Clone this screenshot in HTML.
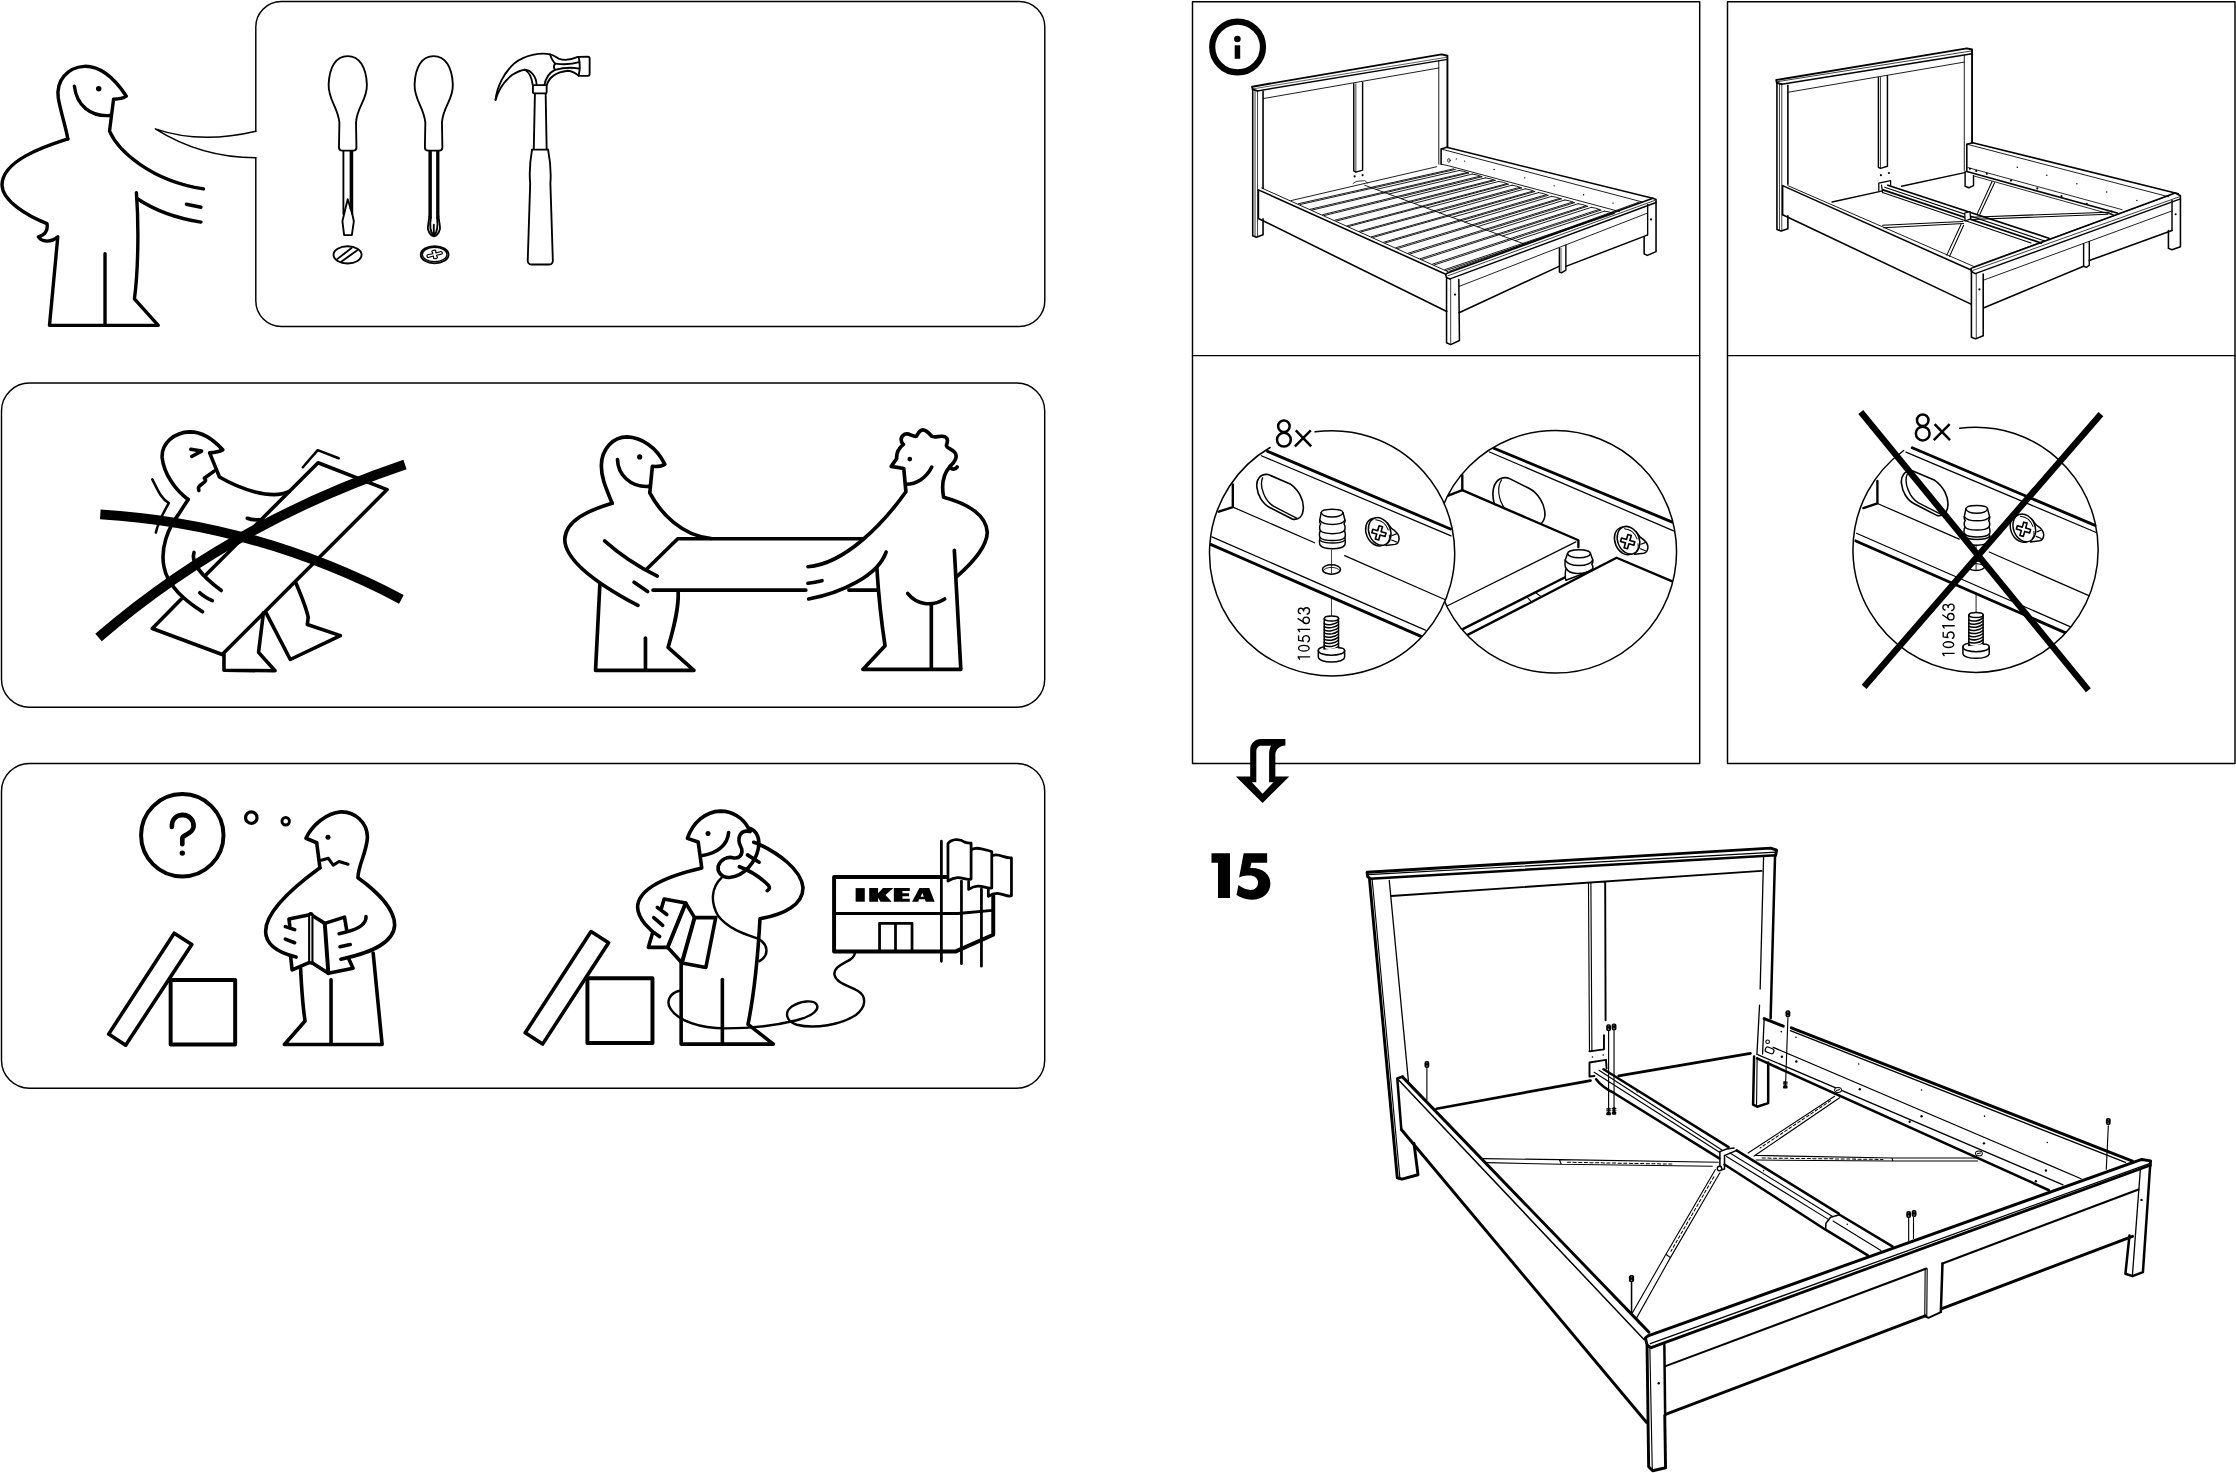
<!DOCTYPE html>
<html><head><meta charset="utf-8">
<style>
html,body{margin:0;padding:0;background:#fff;}
body{width:2236px;height:1473px;overflow:hidden;font-family:"Liberation Sans",sans-serif;}
svg{display:block;position:absolute;left:0;top:0;}
.k{fill:none;stroke:#000;stroke-linecap:round;stroke-linejoin:round;}
</style></head><body>
<svg width="2236" height="1473" viewBox="0 0 2236 1473">
<rect width="2236" height="1473" fill="#fff"/>
<!-- FRAMES -->
<g id="frames" class="k" stroke-width="1.45">
<!-- speech bubble -->
<path d="M255.8,131.2 L255.8,27 A25.5,25.5 0 0 1 281.3,1.5 L1019.3,1.5 A25.5,25.5 0 0 1 1044.8,27 L1044.8,301 A25.5,25.5 0 0 1 1019.3,326.4 L281.3,326.4 A25.5,25.5 0 0 1 255.8,301 L255.8,157.8"/>
<path d="M255.8,131.2 C221,139.5 186,139.5 155.3,128.9 C186,148.2 221,157.8 255.8,157.8"/>
<rect x="1.5" y="383" width="1043.2" height="324.2" rx="28" ry="28"/>
<rect x="1.5" y="763.4" width="1043.2" height="324.9" rx="28" ry="28"/>
<rect x="1192.5" y="1.7" width="507.2" height="761.8"/>
<line x1="1192.5" y1="355.6" x2="1699.7" y2="355.6"/>
<rect x="1727.5" y="1.7" width="507.5" height="761.8"/>
<line x1="1727.5" y1="355.6" x2="2235" y2="355.6"/>
</g>

<!-- SEC1 -->
<g id="man1" class="k" transform="scale(0.25123)" stroke-width="13.5">
<path d="M270,553 C262,505 240,440 232,390 C222,320 270,268 335,264 C400,262 455,310 503,383 C490,392 470,395 452,395 L436,522 C470,600 600,720 810,752"/>
<path d="M270,553 C170,585 10,640 8,735 C8,800 110,860 187,890 C192,915 180,935 153,943 C165,962 200,968 230,943 L197,1295 L630,1295 L535,1190 C550,1080 553,900 543,767"/>
<path d="M545,790 C620,840 710,870 800,884"/>
<path d="M742,813 L800,825"/>
<path d="M418,1010 L418,1293"/>
<path d="M296,343 C305,420 360,465 438,460"/>
<circle cx="393" cy="353" r="11" fill="#000" stroke="none"/>
</g>
<g id="tools" class="k" transform="translate(300,40) scale(0.14324)" stroke-width="13">
<!-- screwdriver 1 -->
<path id="sdh" d="M333,113 C250,113 205,190 200,310 C197,420 262,460 275,575 L272,750 C272,765 280,772 295,772 L372,772 C388,772 394,765 394,750 L391,575 C400,460 470,420 467,310 C462,190 415,113 333,113 Z"/>
<path d="M303,775 L303,1215 M365,775 L365,1215 M353,775 L353,1180"/>
<path d="M333,1112 L308,1215 L296,1265 L308,1362 L362,1362 L376,1265 L365,1215 L333,1112"/>
<ellipse cx="332" cy="1500" rx="98" ry="60"/>
<path d="M262,1528 L360,1452 M290,1546 L400,1468"/>
<!-- screwdriver 2 -->
<use href="#sdh" x="600"/>
<path d="M903,775 L903,1230 M967,775 L967,1230 M914,775 L914,1240 M957,775 L957,1240"/>
<path d="M903,1230 C900,1270 890,1300 893,1320 C900,1345 915,1368 935,1370 C955,1368 970,1345 977,1320 C980,1300 970,1270 967,1230"/>
<path d="M914,1240 C905,1290 908,1340 933,1366 M957,1240 C963,1290 960,1340 936,1366 M934,1290 L934,1366"/>
<ellipse cx="940" cy="1499" rx="97" ry="60"/>
<ellipse cx="940" cy="1497" rx="86" ry="50" stroke-width="9"/>
<g transform="translate(940,1497) rotate(-14)" stroke-width="9"><path d="M-14,-32 C-14,-40 14,-40 14,-32 L12,-10 L50,-12 C60,-12 60,12 50,12 L12,10 L14,32 C14,40 -14,40 -14,32 L-12,10 L-50,12 C-60,12 -60,-12 -50,-12 L-12,-10 Z" transform="scale(0.95,0.8)"/></g>
<!-- hammer -->
<path d="M1365,418 C1375,330 1420,230 1500,160 C1570,105 1680,85 1745,100 C1775,105 1790,125 1810,132 C1850,145 1900,135 1940,118"/>
<path d="M1365,418 C1385,350 1420,290 1480,245 C1510,225 1540,212 1570,208 C1600,225 1618,260 1625,315"/>
<path d="M1570,208 C1610,210 1648,250 1652,312"/>
<rect x="1626" y="315" width="96" height="58" rx="8"/>
<path d="M1745,100 C1755,130 1765,150 1782,165 C1770,180 1770,195 1780,208"/>
<path d="M1782,165 C1840,172 1900,170 1950,155 M1780,208 C1840,192 1900,190 1950,200"/>
<path d="M1722,318 C1735,270 1780,225 1870,215 C1900,215 1925,235 1945,248"/>
<path d="M1706,315 C1715,265 1745,225 1780,208"/>
<path d="M1945,118 L2010,116 C2018,116 2022,120 2022,128 L2022,238 C2022,246 2018,250 2010,250 L1945,250 C1955,210 1955,160 1945,118 Z"/>
<path d="M1640,375 L1632,762 M1715,375 L1722,762 M1620,765 L1732,765"/>
<path d="M1620,765 C1605,850 1602,950 1607,1000 L1590,1535 C1588,1555 1598,1567 1615,1567 L1740,1567 C1757,1567 1767,1555 1765,1535 L1748,1000 C1752,950 1748,850 1732,765"/>
</g>

<!-- SEC2 -->
<g id="wrong" class="k" transform="translate(60,400) scale(0.17921)" stroke-width="20">
<!-- head -->
<path d="M715,555 C640,500 580,410 570,322 C565,240 640,180 725,178 C800,178 860,225 908,278 C885,290 860,293 835,295 L890,430 C1000,495 1180,560 1280,510"/>
<path d="M715,555 L660,640 C600,720 560,830 580,930 C600,1040 700,1120 795,1182"/>
<path d="M860,397 L805,437 C830,452 785,470 778,480 C772,488 772,498 775,505" stroke-width="20"/>
<path d="M730,275 L790,285 L735,315" stroke-width="20"/>
<path d="M515,443 C545,500 560,545 607,575 C570,640 545,690 535,740" stroke-width="14"/>
<path d="M1355,375 L1438,280 L1555,325" stroke-width="14"/>
<path d="M748,850 C730,900 780,975 900,1063"/>
<path d="M780,1075 C800,1095 825,1108 850,1120"/>
<path d="M1045,660 C1070,670 1100,670 1130,668"/>
<!-- board -->
<path d="M815,975 L1440,350 L1825,500 L905,1420 L515,1275 L680,1108"/>
<!-- legs -->
<path d="M915,1418 L915,1508 L1200,1511 L1108,1408 L1135,1188"/>
<path d="M1315,1018 C1350,1100 1375,1160 1385,1213 L1380,1253 L1565,1315 L1285,1448 L1150,1188"/>
<!-- cross -->
<path d="M225,638 Q1100,690 1905,1112" stroke-width="55" stroke-linecap="butt"/>
<path d="M215,1325 Q950,690 1925,360" stroke-width="55" stroke-linecap="butt"/>
</g>
<g id="pair" class="k" transform="translate(540,410) scale(0.21525)" stroke-width="17">
<!-- left man -->
<path d="M335,433 C310,370 285,320 285,260 C285,180 340,125 405,125 C470,128 540,170 580,252 C565,262 545,264 522,262 L510,385 C560,480 660,585 795,597"/>
<path d="M335,433 C230,465 120,510 115,600 C115,700 270,810 455,908"/>
<path d="M360,230 C362,300 420,360 505,355"/>
<circle cx="463" cy="218" r="12" fill="#000" stroke="none"/>
<path d="M300,608 C380,680 460,730 545,772"/>
<path d="M437,800 L500,843"/>
<path d="M278,812 L258,1210 L715,1210 L595,1103 C625,1000 645,920 642,845"/>
<path d="M490,1060 L490,1205"/>
<!-- board -->
<path d="M495,740 L640,598 L1500,598"/>
<path d="M525,837 L1235,837 M1435,837 L1565,837"/>
<!-- right man -->
<path d="M1938,265 C1930,278 1912,278 1905,262 C1925,245 1945,215 1925,195 C1910,180 1890,178 1888,165 C1895,145 1898,125 1870,122 C1850,120 1835,130 1820,122 C1805,105 1795,92 1778,92 C1760,95 1758,110 1748,122 C1730,125 1715,105 1695,112 C1675,122 1672,145 1688,160 C1670,175 1655,200 1657,225 L1632,262 L1690,272 L1700,380 C1600,520 1420,715 1245,728"/>
<path d="M1820,265 C1795,315 1750,345 1700,345"/>
<circle cx="1718" cy="228" r="11" fill="#000" stroke="none"/>
<path d="M1905,262 C1870,300 1865,350 1875,405 C1990,435 2075,490 2078,570 C2075,640 2010,710 1935,775"/>
<path d="M1925,652 L1955,1205 L1500,1205 L1603,1095 C1585,980 1572,850 1565,735"/>
<path d="M1818,905 L1818,1200"/>
<path d="M1708,852 C1750,905 1820,915 1880,878"/>
<path d="M1608,660 C1570,770 1400,850 1248,878"/>
<path d="M1245,805 C1270,802 1290,798 1310,793"/>
</g>

<!-- SEC3 -->
<g id="qman" class="k" transform="translate(90,780) scale(0.17921)" stroke-width="20">
<circle cx="515" cy="308" r="230" stroke-width="22"/>
<path d="M457,262 C455,220 480,197 515,195 C555,195 580,225 578,260 C575,300 520,305 515,325 L515,358" stroke-width="26"/>
<circle cx="515" cy="408" r="15" fill="#000" stroke="none"/>
<circle cx="900" cy="210" r="32" stroke-width="18"/>
<circle cx="1092" cy="230" r="21" stroke-width="16"/>
<!-- board and box -->
<path d="M470,855 L568,918 L199,1480 L104,1418 Z"/>
<rect x="450" y="1116" width="360" height="360" stroke-width="22"/>
<!-- man -->
<path d="M1283,490 L1265,350 L1205,325 C1240,250 1320,185 1400,178 C1480,175 1548,240 1548,320 C1545,400 1495,480 1495,545 C1600,620 1700,720 1700,810 C1695,920 1540,970 1400,1000"/>
<path d="M1283,490 C1180,565 980,720 980,845 C980,920 1060,965 1150,988"/>
<circle cx="1328" cy="320" r="14" fill="#000" stroke="none"/>
<path d="M1290,448 L1330,437 L1357,475 L1390,455 L1440,470" stroke-width="17"/>
<path d="M1540,762 C1545,810 1480,840 1390,858"/>
<path d="M1395,930 L1452,918 M1090,818 L1142,835 M1090,888 L1142,908"/>
<!-- booklet -->
<path d="M1115,815 L1110,775 L1232,750 L1310,800 L1420,765 L1432,835 M1445,1000 L1468,1050 L1330,1078 L1232,1015 L1128,1060 L1120,990"/>
<path d="M1232,752 L1232,1015" stroke-width="30"/><path d="M1232,760 L1232,1008" stroke-width="7" stroke="#fff"/><path d="M1310,800 L1330,1078" stroke-width="22"/>
<!-- legs -->
<path d="M1175,1050 C1180,1150 1185,1250 1200,1345 L1085,1476 L1630,1476 L1580,965"/>
<path d="M1345,1115 L1345,1470"/>
</g>
<g id="pman" class="k" transform="translate(510,790) scale(0.17921)" stroke-width="20">
<path d="M452,790 L550,852 L182,1418 L85,1355 Z"/>
<rect x="432" y="1050" width="363" height="362" stroke-width="22"/>
<!-- head/body -->
<path d="M1330,212 C1300,155 1240,118 1175,118 C1090,120 1020,182 990,270 L1050,290 L1070,435 C900,475 712,540 712,655 C715,720 780,785 835,818"/>
<circle cx="1105" cy="243" r="14" fill="#000" stroke="none"/>
<path d="M1220,237 C1215,310 1150,355 1075,365"/>
<!-- booklet -->
<path d="M845,660 L860,608 L980,630 L1030,712 L1148,712 L1093,990 L960,965 L880,878 L772,878 L795,800"/>
<path d="M980,632 L880,878 M1030,712 L960,962" stroke-width="22"/>
<path d="M822,655 L875,695 M802,712 L852,755"/>
<!-- legs -->
<path d="M955,960 L955,1418 L1470,1418 L1328,1308 C1360,1150 1385,900 1395,718 C1530,695 1635,640 1635,545 C1625,440 1490,350 1385,300"/>
<path d="M1185,1058 L1185,1410"/>
<!-- phone -->
<path d="M1330,212 C1385,225 1395,280 1385,330 C1370,400 1310,480 1225,488 C1180,490 1155,455 1162,425 C1175,385 1215,370 1245,378 C1280,385 1300,360 1293,330 C1285,305 1270,290 1280,260 C1288,235 1310,225 1340,232"/>
<path d="M1280,428 C1340,450 1400,490 1440,530 C1452,545 1448,555 1435,562"/>
<path d="M1325,362 L1390,403 M1360,292 L1385,300"/>
<!-- cord -->
<path d="M1180,490 C1120,545 1120,630 1160,700 C1220,780 1330,810 1385,830 C1440,860 1450,920 1392,955" stroke-width="13.5"/>
<path d="M945,1120 C890,1135 870,1180 895,1220 C940,1290 1060,1330 1200,1330 C1350,1330 1500,1310 1600,1285 C1690,1260 1730,1225 1710,1195 C1690,1170 1620,1175 1570,1210 C1530,1240 1540,1290 1600,1310 C1700,1335 1850,1310 1930,1255 C1990,1210 1990,1150 1940,1120 C1890,1090 1820,1080 1810,1030 C1808,985 1860,970 1900,945 C1920,930 1925,920 1925,905" stroke-width="13.5"/>
</g>
<g id="store" class="k" transform="translate(820,820) scale(0.098434)" stroke-width="28" stroke-linecap="butt">
<path d="M1290,580 L143,580 L143,1335 L1380,1335 L1760,1165 L1760,770" stroke-width="40" stroke-linejoin="round"/>
<path d="M143,950 L1400,950 L1750,918" stroke-width="30"/>
<path d="M605,1320 L605,1050 L935,1050 L935,1320 M767,1050 L767,1320" stroke-linejoin="round"/>
<path d="M1233,215 L1233,1435 M1437,620 L1437,1460 M1640,700 L1640,1485" stroke-linecap="round"/>
<path d="M1300,240 C1340,190 1420,190 1470,225 C1495,235 1515,237 1535,235 L1535,600 C1470,620 1420,545 1300,620 Z" stroke-linejoin="round" fill="#fff"/>
<path d="M1540,300 C1600,265 1680,305 1745,320 L1745,690 C1680,705 1620,630 1510,705 L1510,625" stroke-linejoin="round"/>
<path d="M1755,360 C1820,335 1880,395 1945,385 L1945,770 C1880,790 1820,700 1710,775 L1710,700" stroke-linejoin="round"/>
<g fill="#000" stroke="none" fill-rule="evenodd">
<path d="M362,692 H455 V830 H362 Z"/>
<path d="M500,692 H590 V745 L640,692 H745 L665,762 L728,830 H615 L590,790 V830 H500 Z"/>
<path d="M750,692 H912 V722 H838 V745 H905 V775 H838 V800 H912 V830 H750 Z"/>
<path d="M1010,692 H1110 L1165,830 H1075 L1065,805 H1005 L1000,830 H935 Z M1022,780 L1040,742 L1054,780 Z"/>
</g>
</g>

<!-- SEC4 -->
<g id="info" class="k">
<circle cx="1237.6" cy="47" r="25.4" stroke-width="6.2"/>
<circle cx="1237.4" cy="39" r="3.3" fill="#000" stroke="none"/>
<rect x="1234.7" y="45.3" width="5.5" height="13.5" fill="#000" stroke="none"/>
</g>
<g id="bed4" class="k" transform="translate(1230,40) scale(0.21048)" stroke-width="6.8">
<!-- headboard -->
<path d="M130,242 L108,235 L105,222 L1005,68 L1033,75 L1033,510" stroke-width="9"/>
<path d="M130,242 L1033,92" stroke-width="6.8"/>
<path d="M110,232 L1030,82" stroke-width="3"/>
<path d="M108,235 L108,930 L125,937 L157,925 L157,850 M157,245 L157,705" stroke-width="7.5"/>
<path d="M119,240 L119,932 M131,243 L131,933" stroke-width="3.6"/>
<path d="M992,100 L992,590 M160,278 L992,133" stroke-width="4.2"/>
<path d="M588,208 L588,622 L598,628 L630,618 L630,200" stroke-width="6.8"/>
<path d="M598,208 L598,626" stroke-width="3.6"/>
<circle cx="592" cy="648" r="5" fill="#000" stroke="none"/><circle cx="630" cy="642" r="5" fill="#000" stroke="none"/>
<path d="M585,682 L600,672 L640,668 L655,680" stroke-width="3.6"/>
<!-- left rail -->
<path d="M135,848 L135,712 L1025,1113" stroke-width="7.5"/>
<path d="M150,703 L1038,1102" stroke-width="4.2"/>
<path d="M135,848 L1030,1290" stroke-width="7.5"/>
<!-- far rail -->
<path d="M1003,590 L1003,518 L1030,510 L2008,752" stroke-width="7.5"/>
<path d="M1003,518 L1960,770" stroke-width="4.2"/>
<path d="M1003,590 L1040,598 L1850,815" stroke-width="4.2"/>
<ellipse cx="1040" cy="572" rx="6" ry="9" stroke-width="3.6"/>
<g fill="#000" stroke="none"><circle cx="1075" cy="565" r="3"/><circle cx="1115" cy="575" r="3"/><circle cx="1255" cy="615" r="3.5"/><circle cx="1400" cy="655" r="3.5"/><circle cx="1540" cy="693" r="3.5"/><circle cx="1680" cy="735" r="3.5"/><circle cx="1820" cy="775" r="3.5"/></g>
<!-- slats -->
<path d="M290,763 L982,602 M324,778 L1063,612 M332,782 L1071,615 M694,710 L1089,620 M382,804 L1125,630 M390,808 L1134,632 M1089,620 Q1111,622 1134,632 M754,732 L1152,637 M440,830 L1188,647 M448,834 L1197,650 M1152,637 Q1174,639 1197,650 M814,754 L1214,655 M498,856 L1251,665 M506,860 L1260,667 M1214,655 Q1236,657 1260,667 M875,776 L1277,672 M556,883 L1314,683 M564,886 L1322,685 M1277,672 Q1299,674 1322,685 M935,798 L1340,690 M614,909 L1376,700 M622,912 L1385,703 M1340,690 Q1362,692 1385,703 M995,821 L1403,707 M672,935 L1439,718 M680,938 L1448,720 M1403,707 Q1425,709 1448,720 M1055,843 L1466,725 M730,961 L1502,735 M738,964 L1511,738 M1466,725 Q1488,727 1511,738 M1115,865 L1528,743 M788,987 L1565,753 M796,991 L1574,755 M1528,743 Q1550,745 1574,755 M1175,887 L1591,760 M846,1013 L1628,770 M854,1017 L1636,773 M1591,760 Q1613,762 1636,773 M1235,909 L1654,778 M904,1039 L1690,788 M912,1043 L1699,790 M1654,778 Q1676,780 1699,790 M1295,931 L1717,795 M962,1065 L1753,805 M970,1069 L1762,808 M1717,795 Q1739,797 1762,808 M1356,953 L1779,813 M1020,1091 L1816,823 M1028,1095 L1825,825 M1779,813 Q1801,815 1825,825" stroke-width="4.2"/>
<path d="M640,690 L1395,968" stroke-width="4.2"/>
</g>
<g id="foot4" class="k" transform="translate(1420,180) scale(0.12522)" stroke-width="11.5">
<path d="M240,790 L210,778 L205,755 L215,745 L1860,145 L1885,155 L1885,572 L1815,602 L1790,590 L1790,455" stroke-width="12.5"/>
<path d="M240,790 L1885,180" stroke-width="11.5"/>
<path d="M222,765 L1878,162" stroke-width="6"/>
<path d="M235,728 L1745,178" stroke-width="7"/>
<path d="M312,850 L1815,265" stroke-width="7"/>
<path d="M312,1060 L1110,690 M1165,690 L1815,440" stroke-width="12"/>
<path d="M212,785 L212,1300 L245,1315 L315,1282 L310,795" stroke-width="12"/>
<path d="M245,795 L245,1312" stroke-width="6"/>
<circle cx="280" cy="915" r="9" fill="#000" stroke="none"/>
<path d="M1113,545 L1113,735 L1130,742 L1165,720 L1165,520" stroke-width="11"/>
<path d="M1126,545 L1126,738" stroke-width="5.5"/>
<path d="M1818,195 L1818,440" stroke-width="11"/>
<circle cx="1845" cy="315" r="9" fill="#000" stroke="none"/>
</g>

<!-- SEC5 -->
<g id="bed5" class="k" transform="translate(1750,40) scale(0.21048)" stroke-width="6.8">
<!-- headboard -->
<path d="M150,210 L127,203 L125,190 L1030,40 L1055,45 L1055,488" stroke-width="9"/>
<path d="M150,210 L1055,65" stroke-width="6.8"/>
<path d="M130,198 L1052,52" stroke-width="3.6"/>
<path d="M128,203 L128,900 L148,908 L180,897 L180,835 M180,215 L180,685" stroke-width="7.5"/>
<path d="M140,208 L140,904 M151,212 L151,906" stroke-width="3.6"/>
<path d="M1018,72 L1018,620 M183,248 L1018,105" stroke-width="4.2"/>
<path d="M610,178 L610,605 L620,610 L653,600 L653,170" stroke-width="6.8"/>
<path d="M620,178 L620,608" stroke-width="3.6"/>
<circle cx="622" cy="642" r="5" fill="#000" stroke="none"/><circle cx="660" cy="632" r="5" fill="#000" stroke="none"/>
<path d="M612,715 L612,680 L668,668 L668,690" stroke-width="6"/>
<!-- floor/back lines -->
<path d="M390,770 L625,718 M720,695 L1020,630" stroke-width="6.8"/>
<!-- left rail -->
<path d="M155,830 L155,692 L1048,1092" stroke-width="7.5"/>
<path d="M180,692 L1068,1078" stroke-width="4.2"/>
<path d="M155,830 L1050,1255" stroke-width="7.5"/>
<!-- far rail -->
<path d="M1030,620 L1030,495 L1058,488 L2035,730" stroke-width="7.5"/>
<path d="M1030,495 L1990,745" stroke-width="4.2"/>
<path d="M1035,606 L1768,806 M1060,645 L1728,832" stroke-width="4"/><path d="M1030,625 L1745,822" stroke-width="8"/>
<path d="M1022,625 L1022,695 L1040,702 L1062,692 L1062,645" stroke-width="6.8"/>
<g fill="#000" stroke="none"><circle cx="1045" cy="612" r="5"/><circle cx="1075" cy="622" r="5"/><circle cx="1125" cy="635" r="5"/><circle cx="1240" cy="668" r="5"/><circle cx="1365" cy="705" r="5"/><circle cx="1480" cy="742" r="5"/><circle cx="1600" cy="778" r="5"/><circle cx="1718" cy="815" r="5"/>
<circle cx="1270" cy="605" r="3.5"/><circle cx="1410" cy="643" r="3.5"/><circle cx="1553" cy="683" r="3.5"/><circle cx="1695" cy="722" r="3.5"/><circle cx="1838" cy="762" r="3.5"/></g>
<!-- center beam -->
<path d="M655,690 L1420,942 M632,712 L1385,965" stroke-width="8"/>
<path d="M640,700 L1400,955 M630,725 L1335,965" stroke-width="5"/>
<path d="M625,690 L630,725" stroke-width="6"/>
<path d="M1020,822 L1045,815 L1048,850 L1022,860 Z" stroke-width="6" fill="#fff"/>
<!-- braces -->
<path d="M630,880 L1012,862 M635,892 L1015,872 M1003,875 L935,1022 M1015,880 L948,1028 M1048,842 L1700,818 L1725,830 M1050,853 L1700,828 M1080,825 L1150,672 M1092,828 L1162,678" stroke-width="5"/>
<!-- footboard -->
<path d="M1070,1110 L1052,1100 L1050,1085 L2020,727 L2045,740 L2045,982 L2005,997 L1988,990 L1988,905" stroke-width="7.5"/>
<path d="M1070,1110 L2045,755" stroke-width="6.8"/>
<path d="M1058,1095 L2040,745 M1068,1075 L1995,738" stroke-width="3.6"/>
<path d="M1112,1140 L2005,812" stroke-width="4.2"/>
<path d="M1112,1272 L1585,1075 M1612,1048 L2005,905" stroke-width="7.5"/>
<path d="M1052,1100 L1052,1412 L1072,1420 L1108,1405 L1108,1112" stroke-width="7.5"/>
<path d="M1075,1110 L1075,1418" stroke-width="3.6"/>
<circle cx="1090" cy="1185" r="5" fill="#000" stroke="none"/>
<path d="M1585,968 L1585,1075 L1598,1080 L1612,1070 L1612,958" stroke-width="6.8"/>
<path d="M2005,762 L2005,905" stroke-width="6.8"/>
<circle cx="2022" cy="828" r="5" fill="#000" stroke="none"/>
</g>

<!-- SEC6 -->
<defs><clipPath id="cl1"><circle cx="1055" cy="1224" r="979"/></clipPath><clipPath id="cl2"><circle cx="1000" cy="1212" r="969"/></clipPath></defs>
<g id="c2" class="k" transform="translate(1430,400) scale(0.12522)" stroke-width="12">
<circle cx="1000" cy="1212" r="969" fill="#fff" stroke-width="12"/>
<g clip-path="url(#cl2)">
<path d="M510,385 L1935,975" stroke-width="23"/>
<path d="M475,415 L1945,1045" stroke-width="10"/>
<path d="M258,600 L258,720 L140,765" stroke-width="19"/>
<path d="M515,835 C490,750 500,650 570,625 C600,613 620,620 640,630 L790,705 C860,740 920,830 918,920 C915,960 900,975 885,990" stroke-width="13"/>
<path d="M600,870 C540,790 535,690 572,638" stroke-width="9"/>
<path fill="#fff" d="M1098,1228 C1098,1185 1282,1185 1282,1228 L1300,1278 C1303,1295 1297,1305 1292,1310 C1300,1320 1302,1345 1298,1360 L1085,1440 C1078,1420 1078,1360 1088,1345 C1078,1335 1078,1295 1080,1278 Z"/>
<path d="M1098,1228 C1115,1270 1265,1270 1282,1228 M1080,1278 C1110,1335 1270,1335 1300,1278 M1088,1345 C1110,1395 1230,1400 1292,1352"/>
<path d="M258,720 L1185,1120 L1185,1175" stroke-width="19"/>
<path d="M1165,1133 L140,1643" stroke-width="10"/>
<path d="M265,1828 L1075,1418" stroke-width="19"/>
<path d="M300,1876 Q900,1570 1300,1358 L1490,1260 L1935,1448" stroke-width="19"/>
<path d="M780,1578 L815,1618 M850,1543 L885,1568" stroke-width="9"/>
<g transform="translate(1585,1120)">
<path d="M60,-70 L94,-24 C125,-5 158,25 155,60 C152,90 140,100 122,103 L50,112 Z" fill="#fff" stroke-width="12"/>
<path d="M100,32 L138,17 M95,68 L135,84" stroke-width="9"/>
<g transform="rotate(-22)">
<ellipse cx="-22" cy="-4" rx="86" ry="114" fill="#fff" stroke-width="12"/>
<ellipse cx="0" cy="0" rx="86" ry="114" fill="#fff" stroke-width="12"/>
<g transform="translate(-10,8) rotate(38)"><path d="M-14,-55 L14,-55 L14,-14 L55,-14 L55,14 L14,14 L14,55 L-14,55 L-14,14 L-55,14 L-55,-14 L-14,-14 Z" stroke-width="13" fill="#fff"/></g>
<path d="M5,-98 C50,-75 70,-35 68,15 M60,55 C55,80 40,98 25,105" stroke-width="8"/>
</g></g>
</g></g>
<g id="c1" class="k" transform="translate(1200,400) scale(0.12522)" stroke-width="12">
<circle cx="1055" cy="1224" r="979" fill="#fff" stroke="none"/>
<g clip-path="url(#cl1)">
<path d="M540,410 L2000,1030" stroke-width="23"/>
<path d="M490,445 L2005,1085" stroke-width="10"/>
<path d="M262,675 L262,855 L150,892" stroke-width="19"/>
<path d="M262,855 L915,1140 M1155,1243 L1955,1593 M95,1093 L1800,1838" stroke-width="10"/>
<path d="M85,1153 L1765,1888" stroke-width="23"/>
<path d="M455,700 C445,640 480,585 545,595 L720,670 C790,720 830,800 825,870 C820,930 790,960 740,952 L560,860 C500,830 460,760 455,700 Z" stroke-width="13"/>
<path d="M500,622 C470,690 520,810 590,850 L775,945" stroke-width="11"/>
</g>
<g clip-path="url(#cl1)">
<path fill="#fff" d="M968,900 C968,880 1010,872 1055,872 C1100,872 1142,880 1142,900 L1158,960 C1160,975 1155,985 1150,990 C1160,1000 1162,1030 1152,1045 C1162,1055 1164,1090 1155,1100 C1162,1110 1162,1150 1155,1160 C1130,1197 990,1197 960,1160 C952,1150 952,1110 960,1100 C950,1090 952,1055 962,1045 C952,1030 954,1000 964,990 C956,985 954,975 956,960 Z"/>
<path d="M968,900 C985,945 1125,945 1142,900 M956,960 C985,1005 1130,1005 1158,960 M962,1045 C990,1075 1125,1075 1152,1045 M960,1100 C990,1130 1125,1130 1155,1100 M958,1120 C990,1150 1125,1150 1157,1120"/>
<path d="M1050,1198 L1050,1383 M1050,1578 L1050,1723" stroke-width="6"/>
<ellipse cx="1050" cy="1353" rx="72" ry="38"/>
<path d="M985,1362 C1000,1328 1100,1328 1115,1362" stroke-width="7"/>
<path d="M992,1745 L992,1995 M1106,1745 L1106,1995" />
<ellipse cx="1050" cy="1745" rx="57" ry="20"/>
<path d="M992,1785 C1020,1803 1080,1793 1106,1769 M992,1810 C1020,1828 1080,1818 1106,1794 M992,1835 C1020,1853 1080,1843 1106,1819 M992,1860 C1020,1878 1080,1868 1106,1844 M992,1885 C1020,1903 1080,1893 1106,1869 M992,1910 C1020,1928 1080,1918 1106,1894 M992,1935 C1020,1953 1080,1943 1106,1919 M992,1960 C1020,1978 1080,1968 1106,1944 M992,1985 C1020,2003 1080,1993 1106,1969" stroke-width="12"/>
<path fill="#fff" d="M945,2001 C945,1978 992,1966 992,1978 M1106,1978 C1130,1978 1155,1986 1155,2001 L1155,2053 C1155,2105 945,2105 945,2053 L945,2001"/>
<path d="M945,2001 C945,2051 1155,2051 1155,2001"/>
<g transform="translate(1435,1050)">
<path d="M60,-70 L94,-24 C125,-5 158,25 155,60 C152,90 140,100 122,103 L50,112 Z" fill="#fff" stroke-width="12"/>
<path d="M100,32 L138,17 M95,68 L135,84" stroke-width="9"/>
<g transform="rotate(-22)">
<ellipse cx="-22" cy="-4" rx="86" ry="114" fill="#fff" stroke-width="12"/>
<ellipse cx="0" cy="0" rx="86" ry="114" fill="#fff" stroke-width="12"/>
<g transform="translate(-10,8) rotate(38)"><path d="M-14,-55 L14,-55 L14,-14 L55,-14 L55,14 L14,14 L14,55 L-14,55 L-14,14 L-55,14 L-55,-14 L-14,-14 Z" stroke-width="13" fill="#fff"/></g>
<path d="M5,-98 C50,-75 70,-35 68,15 M60,55 C55,80 40,98 25,105" stroke-width="8"/>
</g></g>
</g>
<path d="M919,254.5 A979,979 0 1 1 559.7,379.5" stroke-width="12"/>
<circle cx="670" cy="210" r="46" stroke-width="20"/><circle cx="670" cy="317" r="55" stroke-width="20"/>
<path d="M765,242 L888,370 M885,242 L758,370" stroke-width="20" stroke-linecap="butt"/>
</g>
<g transform="translate(1309.6,660.0) rotate(-90)" fill="none" stroke="#000" stroke-width="1.35" stroke-linecap="round" stroke-linejoin="round"><path d="M0.8,-10.1 L3.1,-11.5 L3.1,0"/><ellipse cx="11.8" cy="-5.75" rx="2.9" ry="5.3"/><path d="M24.0,-11.0 L19.6,-11.0 L18.9,-6.2 C20.6,-7.8 24.4,-7.2 24.4,-3.6 C24.4,0.3 19.6,0.9 18.1,-1.8"/><path d="M28.4,-10.1 L30.7,-11.5 L30.7,0"/><path d="M41.4,-11.5 L37.2,-5.3"/><circle cx="39.7" cy="-3.4" r="3.2"/><path d="M46.4,-9.2 C46.9,-12.2 51.8,-11.9 51.8,-8.8 C51.8,-6.8 50.3,-6.0 48.9,-6.0 C50.8,-6.0 52.3,-5.0 52.3,-3.0 C52.3,0.8 46.4,0.8 45.9,-2.5"/></g>
<!-- SEC7 -->
<defs><clipPath id="cl7"><circle cx="1055" cy="1224" r="979"/></clipPath></defs>
<g id="c7" class="k" transform="translate(1844.6,396.4) scale(0.12522)" stroke-width="12">
<circle cx="1055" cy="1224" r="979" fill="#fff" stroke="none"/>
<g clip-path="url(#cl7)">
<path d="M540,410 L2000,1030" stroke-width="23"/>
<path d="M490,445 L2005,1085" stroke-width="10"/>
<path d="M262,675 L262,855 L150,892" stroke-width="19"/>
<path d="M262,855 L915,1140 M1155,1243 L1955,1593 M95,1093 L1800,1838" stroke-width="10"/>
<path d="M85,1153 L1765,1888" stroke-width="23"/>
<path d="M455,700 C445,640 480,585 545,595 L720,670 C790,720 830,800 825,870 C820,930 790,960 740,952 L560,860 C500,830 460,760 455,700 Z" stroke-width="13"/>
<path d="M500,622 C470,690 520,810 590,850 L775,945" stroke-width="11"/>
</g>
<g clip-path="url(#cl7)">
<path fill="#fff" d="M968,900 C968,880 1010,872 1055,872 C1100,872 1142,880 1142,900 L1158,960 C1160,975 1155,985 1150,990 C1160,1000 1162,1030 1152,1045 C1162,1055 1164,1090 1155,1100 C1162,1110 1162,1150 1155,1160 C1130,1197 990,1197 960,1160 C952,1150 952,1110 960,1100 C950,1090 952,1055 962,1045 C952,1030 954,1000 964,990 C956,985 954,975 956,960 Z"/>
<path d="M968,900 C985,945 1125,945 1142,900 M956,960 C985,1005 1130,1005 1158,960 M962,1045 C990,1075 1125,1075 1152,1045 M960,1100 C990,1130 1125,1130 1155,1100 M958,1120 C990,1150 1125,1150 1157,1120"/>
<path d="M1050,1198 L1050,1383 M1050,1578 L1050,1723" stroke-width="7"/>
<ellipse cx="1050" cy="1353" rx="72" ry="38"/>
<path d="M985,1362 C1000,1328 1100,1328 1115,1362" stroke-width="8"/>
<path d="M992,1745 L992,1995 M1106,1745 L1106,1995" />
<ellipse cx="1050" cy="1745" rx="57" ry="20"/>
<path d="M992,1785 C1020,1803 1080,1793 1106,1769 M992,1810 C1020,1828 1080,1818 1106,1794 M992,1835 C1020,1853 1080,1843 1106,1819 M992,1860 C1020,1878 1080,1868 1106,1844 M992,1885 C1020,1903 1080,1893 1106,1869 M992,1910 C1020,1928 1080,1918 1106,1894 M992,1935 C1020,1953 1080,1943 1106,1919 M992,1960 C1020,1978 1080,1968 1106,1944 M992,1985 C1020,2003 1080,1993 1106,1969" stroke-width="12"/>
<path fill="#fff" d="M945,2001 C945,1978 992,1966 992,1978 M1106,1978 C1130,1978 1155,1986 1155,2001 L1155,2053 C1155,2105 945,2105 945,2053 L945,2001"/>
<path d="M945,2001 C945,2051 1155,2051 1155,2001"/>
<g transform="translate(1435,1050)">
<path d="M60,-70 L94,-24 C125,-5 158,25 155,60 C152,90 140,100 122,103 L50,112 Z" fill="#fff" stroke-width="12"/>
<path d="M100,32 L138,17 M95,68 L135,84" stroke-width="9"/>
<g transform="rotate(-22)">
<ellipse cx="-22" cy="-4" rx="86" ry="114" fill="#fff" stroke-width="12"/>
<ellipse cx="0" cy="0" rx="86" ry="114" fill="#fff" stroke-width="12"/>
<g transform="translate(-10,8) rotate(38)"><path d="M-14,-55 L14,-55 L14,-14 L55,-14 L55,14 L14,14 L14,55 L-14,55 L-14,14 L-55,14 L-55,-14 L-14,-14 Z" stroke-width="13" fill="#fff"/></g>
<path d="M5,-98 C50,-75 70,-35 68,15 M60,55 C55,80 40,98 25,105" stroke-width="8"/>
</g></g>
</g>
<path d="M919,254.5 A979,979 0 1 1 472,432" stroke-width="12"/>
<g transform="translate(-46,-20)"><circle cx="670" cy="210" r="46" stroke-width="20"/><circle cx="670" cy="317" r="55" stroke-width="20"/>
<path d="M765,242 L888,370 M885,242 L758,370" stroke-width="20" stroke-linecap="butt"/></g>
</g>
<g transform="translate(1954.2,656.4) rotate(-90)" fill="none" stroke="#000" stroke-width="1.35" stroke-linecap="round" stroke-linejoin="round"><path d="M0.8,-10.1 L3.1,-11.5 L3.1,0"/><ellipse cx="11.8" cy="-5.75" rx="2.9" ry="5.3"/><path d="M24.0,-11.0 L19.6,-11.0 L18.9,-6.2 C20.6,-7.8 24.4,-7.2 24.4,-3.6 C24.4,0.3 19.6,0.9 18.1,-1.8"/><path d="M28.4,-10.1 L30.7,-11.5 L30.7,0"/><path d="M41.4,-11.5 L37.2,-5.3"/><circle cx="39.7" cy="-3.4" r="3.2"/><path d="M46.4,-9.2 C46.9,-12.2 51.8,-11.9 51.8,-8.8 C51.8,-6.8 50.3,-6.0 48.9,-6.0 C50.8,-6.0 52.3,-5.0 52.3,-3.0 C52.3,0.8 46.4,0.8 45.9,-2.5"/></g>
<g class="k" stroke-width="6.4" style="stroke-linecap:butt"><path d="M1860.8,412 L2088.4,690.2 M2100.9,414.2 L1864.1,686.9"/></g>
<!-- SEC8 -->
<g id="arrow15" transform="translate(1200,725) scale(0.13036)" fill="#000" stroke="none">
<path d="M655,108 L470,108 C420,108 385,145 385,190 L385,395 L275,395 L480,598 L685,395 L578,395 L578,230 C578,190 610,160 655,158 Z"/>
<path fill="#fff" d="M545,160 L470,160 C445,160 432,180 432,205 L432,440 L398,440 L480,527 L563,440 L530,440 L530,230 C530,200 535,175 545,160 Z"/>
<path d="M88,983 L230,983 L230,1328 L138,1328 L138,1057 L88,1057 Z"/>
<path d="M335,983 L515,983 L515,1057 L395,1057 L385,1097 C470,1090 540,1140 540,1215 C540,1290 480,1340 395,1340 C350,1340 310,1325 280,1305 L295,1228 C330,1255 360,1265 390,1265 C420,1265 445,1245 445,1210 C445,1175 420,1155 375,1155 C350,1155 325,1160 300,1170 Z"/>
</g>

<!-- SEC9 -->
<g id="bed9" class="k" transform="translate(1350,830) scale(0.20125)">
<path d="M90,222 L2118,110 M110,245 L248,1730 M1185,265 L1190,1100 M1197,265 L1202,1098 M1285,1000 L1285,1385 M1312,998 L1312,1382 M382,1185 L382,1340 M1237,1194 L1848,1590 M1213,1204 L1838,1602 M1888,1605 L2396,1919 M1871,1622 L2379,1936 M2400,1943 L2638,2089 M660,1633 L1040,1638 L1830,1651 M680,1653 L1050,1661 L1800,1671 M1040,1638 L1050,1661 M1815,1688 L1570,2108 L1400,2405 M1838,1703 L1592,2125 L1425,2423 M1570,2108 L1592,2125 M1400,2248 L1400,2408 M2408,1323 L1978,1605 M2433,1330 L2008,1620 M2018,1617 L2693,1630 L3113,1630 M2018,1640 L2698,1645 L3118,1645 M2693,1630 L2698,1645 M2023,1130 L2020,1373 M2176,933 L2165,1245 M3768,1470 L3758,1685 M2776,1930 L2776,2040 M2800,1925 L2800,2030 M1490,2574 L1502,3179 M2858,2184 L2856,2414 M2868,2182 L2866,2419 M1398,2249 L1398,2404" stroke-width="5.6"/>
<path d="M195,250 L290,1245 M2055,135 L2038,790 M2035,870 L2022,1115 M2188,997 L3853,1652 M2058,937 L2050,1113 M2103,1080 L3633,1733 M2028,1117 L3543,1763 M1492,2552 L3976,1656 M3927,1690 L3888,2210" stroke-width="6.5"/>
<path d="M238,1238 L1462,2533 M1838,1598 L1871,1585 L1908,1580 M1861,1618 L1918,1593 M1838,1598 L1838,1668 L1848,1688 L1861,1685 L1861,1618 M2365,1954 L2388,1924 L2433,1912 M2365,1954 L2363,1986" stroke-width="7.5"/>
<path d="M205,328 L2045,203 M1268,260 L1270,945 M1190,1100 L1262,1090 L1262,1020 M1215,1222 L1190,1225 L1190,1155 L1272,1142 L1275,1185 M2856,2416 L2874,2424 L2936,2396" stroke-width="9.5"/>
<path d="M1568,2664 L2864,2179 M2944,2154 L3918,1786" stroke-width="10.5"/>
<path d="M100,242 L2115,125 M2112,128 L2090,935 M262,1225 L235,1235 L255,1488 M1260,1189 L1881,1576 M1921,1592 L2429,1906 M2435,1913 L2695,2069 M1223,1238 Q1250,1275 1313,1308 L1835,1632 M1861,1662 L2363,1986 L2573,2114 M2023,1135 L3473,1790 M2008,1125 L2003,1365 L2023,1375 L2078,1357 L2078,1155 M1562,2559 L1566,2909 M2944,2154 L2936,2394 M3976,1667 L3940,2197 L3888,2217 L3853,2205 L3873,2015" stroke-width="12.5"/>
<path d="M430,1385 L1195,1245 M1335,1222 L1990,1110 M1496,2572 L3976,1666" stroke-width="13.5"/>
<path d="M100,242 L88,232 L85,210 L2090,90 L2120,100 L2115,125 M97,245 L235,1728 L258,1735 L338,1713 L318,1558 M262,1228 L1485,2495 M255,1488 L1473,2943 M2058,937 L2153,975 M2193,983 L3888,1645 M1496,2572 L1476,2559 L1468,2524 L1484,2512 L3934,1637 L3978,1644 L3976,1666 M1568,2904 L2858,2414 M2938,2379 L3888,2019 M1476,2564 L1484,3164 L1504,3184 L1568,3169 L1564,2909" stroke-width="14.5"/>
<rect x="1273" y="965" width="24" height="35" rx="10" fill="#000" stroke="none"/><circle cx="1285" cy="974" r="3" fill="#888" stroke="none"/><circle cx="1285" cy="990" r="3.5" fill="#999" stroke="none"/>
<rect x="1300" y="961" width="24" height="35" rx="10" fill="#000" stroke="none"/><circle cx="1312" cy="970" r="3" fill="#888" stroke="none"/><circle cx="1312" cy="986" r="3.5" fill="#999" stroke="none"/>
<path d="M1276,1386 L1294,1386 M1276,1395 L1294,1395" stroke-width="6"/><rect x="1274" y="1401" width="22" height="17" rx="6" fill="#000" stroke="none"/><path d="M1285,1384 L1285,1404" stroke-width="9"/>
<path d="M1303,1383 L1321,1383 M1303,1392 L1321,1392" stroke-width="6"/><rect x="1301" y="1398" width="22" height="17" rx="6" fill="#000" stroke="none"/><path d="M1312,1381 L1312,1401" stroke-width="9"/>
<circle cx="1205" cy="1128" r="4" fill="#000" stroke="none"/>
<circle cx="1258" cy="1118" r="4" fill="#000" stroke="none"/>
<rect x="370" y="1148" width="24" height="35" rx="10" fill="#000" stroke="none"/><circle cx="382" cy="1157" r="3" fill="#888" stroke="none"/><circle cx="382" cy="1173" r="3.5" fill="#999" stroke="none"/>
<circle cx="1427" cy="1301" r="4" fill="#000" stroke="none"/>
<circle cx="2055" cy="1693" r="4" fill="#000" stroke="none"/>
<circle cx="2471" cy="1959" r="4" fill="#000" stroke="none"/>
<path d="M1080,1651 L1600,1660" stroke-width="5" stroke-dasharray="16 12"/>
<path d="M1808,1723 L1595,2093" stroke-width="5" stroke-dasharray="14 12"/>
<circle cx="1836" cy="1682" r="11" stroke-width="7" fill="#fff"/>
<rect x="1388" y="2211" width="24" height="35" rx="10" fill="#000" stroke="none"/><circle cx="1400" cy="2220" r="3" fill="#888" stroke="none"/><circle cx="1400" cy="2236" r="3.5" fill="#999" stroke="none"/>
<path d="M2048,1630 L2648,1637" stroke-width="5" stroke-dasharray="16 12"/>
<path d="M2388,1345 L2038,1580" stroke-width="5" stroke-dasharray="14 12"/>
<circle cx="2143" cy="1002" r="4" fill="#000" stroke="none"/>
<circle cx="2216" cy="1030" r="4" fill="#000" stroke="none"/>
<circle cx="2528" cy="1163" r="4" fill="#000" stroke="none"/>
<circle cx="2840" cy="1292" r="4" fill="#000" stroke="none"/>
<circle cx="3153" cy="1422" r="4" fill="#000" stroke="none"/>
<circle cx="3465" cy="1553" r="4" fill="#000" stroke="none"/>
<circle cx="2146" cy="1127" r="6" fill="#000" stroke="none"/>
<circle cx="2218" cy="1150" r="6" fill="#000" stroke="none"/>
<circle cx="2533" cy="1288" r="6" fill="#000" stroke="none"/>
<circle cx="2840" cy="1422" r="6" fill="#000" stroke="none"/>
<circle cx="3150" cy="1557" r="6" fill="#000" stroke="none"/>
<circle cx="3458" cy="1692" r="6" fill="#000" stroke="none"/>
<circle cx="2781" cy="1450" r="6" fill="#000" stroke="none"/>
<circle cx="3408" cy="1745" r="6" fill="#000" stroke="none"/>
<rect x="2063" y="1082" width="44" height="26" rx="12" transform="rotate(22 2085 1095)" stroke-width="6"/>
<circle cx="2075" cy="1052" r="9" stroke-width="5"/>
<ellipse cx="2425" cy="1292" rx="17" ry="12" stroke-width="5" fill="#fff"/><path d="M2417,1294 L2433,1290" stroke-width="5"/>
<ellipse cx="3125" cy="1607" rx="17" ry="12" stroke-width="5" fill="#fff"/><path d="M3117,1609 L3133,1605" stroke-width="5"/>
<rect x="2164" y="896" width="24" height="35" rx="10" fill="#000" stroke="none"/><circle cx="2176" cy="905" r="3" fill="#888" stroke="none"/><circle cx="2176" cy="921" r="3.5" fill="#999" stroke="none"/>
<path d="M2154,1253 L2172,1253 M2154,1262 L2172,1262" stroke-width="6"/><rect x="2152" y="1268" width="22" height="17" rx="6" fill="#000" stroke="none"/><path d="M2163,1251 L2163,1271" stroke-width="9"/>
<rect x="3756" y="1431" width="24" height="35" rx="10" fill="#000" stroke="none"/><circle cx="3768" cy="1440" r="3" fill="#888" stroke="none"/><circle cx="3768" cy="1456" r="3.5" fill="#999" stroke="none"/>
<rect x="2764" y="1893" width="24" height="35" rx="10" fill="#000" stroke="none"/><circle cx="2776" cy="1902" r="3" fill="#888" stroke="none"/><circle cx="2776" cy="1918" r="3.5" fill="#999" stroke="none"/>
<rect x="2791" y="1888" width="24" height="35" rx="10" fill="#000" stroke="none"/><circle cx="2803" cy="1897" r="3" fill="#888" stroke="none"/><circle cx="2803" cy="1913" r="3.5" fill="#999" stroke="none"/>
<circle cx="1534" cy="2749" r="6" fill="#000" stroke="none"/>
<rect x="1386" y="2212" width="24" height="35" rx="10" fill="#000" stroke="none"/><circle cx="1398" cy="2221" r="3" fill="#888" stroke="none"/><circle cx="1398" cy="2237" r="3.5" fill="#999" stroke="none"/>
<circle cx="3933" cy="1838" r="6" fill="#000" stroke="none"/>
</g>
</svg>
</body></html>
